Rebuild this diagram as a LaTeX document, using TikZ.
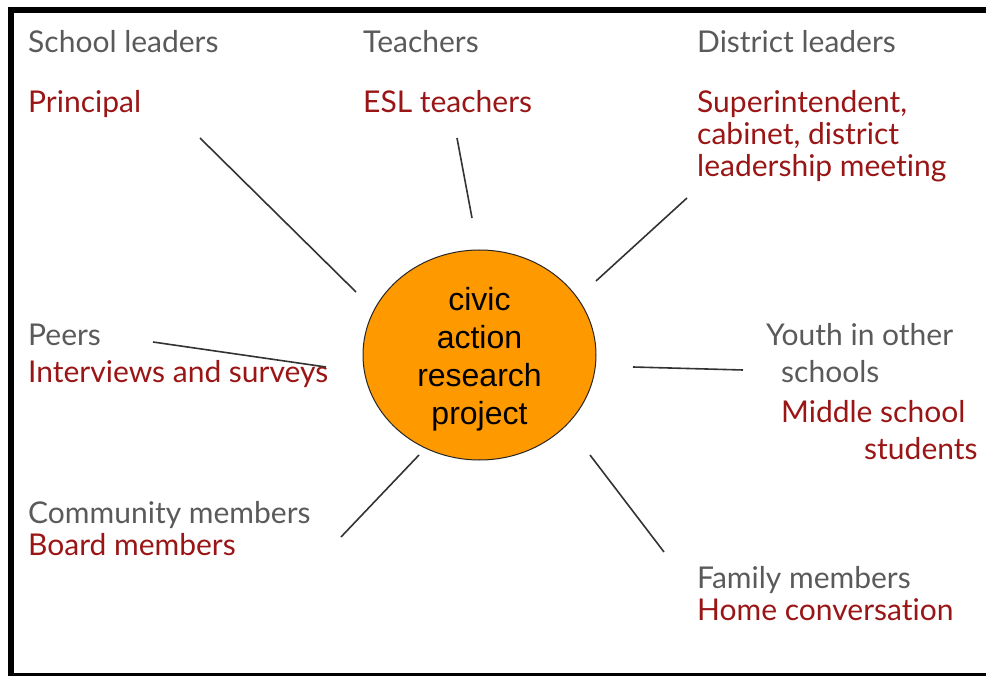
\documentclass[tikz,border=0pt]{standalone}
\usepackage{fontspec}
\usetikzlibrary{shapes.geometric}
\setmainfont{Lato}[Ligatures=NoCommon]
\newfontfamily\hubfont{Liberation Sans}
\definecolor{groupgray}{HTML}{5A5A5A}
\definecolor{examplered}{HTML}{9A1515}
\definecolor{huborange}{HTML}{FF9900}

\begin{document}
\begin{tikzpicture}[
  x=1pt, y=-1pt,
  group/.style={anchor=base west, inner sep=0pt, text=groupgray, font=\fontsize{30}{32}\selectfont},
  example/.style={anchor=base west, inner sep=0pt, text=examplered, font=\fontsize{30}{32}\selectfont, align=left},
  spoke/.style={draw=black!80, line width=1.6pt},
  hub/.style={ellipse, draw=black!85, line width=1pt, fill=huborange, minimum width=233, minimum height=210,
    inner sep=0pt}
]
  \useasboundingbox (0,0) rectangle (986,676);
  \draw[line width=6pt] (986,10.5) -- (10.5,10.5) -- (10.5,675.5) -- (986,675.5);

  \node[hub] (hub) at (479.5,355) {};
  \node[font=\hubfont\fontsize{32}{38}\selectfont, align=center, inner sep=0pt] (hubtext) at (479.5,359)
    {civic\\action\\research\\project};

  % groups and their examples
  \node[group]   (school)    at (28,53)  {School leaders};
  \node[example] (principal) at (28,113) {Principal};
  \node[group]   (teachers)  at (363,53) {Teachers};
  \node[example] (esl)       at (363,113) {ESL teachers};
  \node[group]   (district)  at (697,53) {District leaders};
  \node[example] (supt)      at (697,177) {Superintendent,\\cabinet, district\\leadership meeting};
  \node[group]   (peers)     at (28,346) {Peers};
  \node[example] (surveys)   at (28,383) {Interviews and surveys};
  \node[group]   (youth)     at (766,346) {Youth in other};
  \node[group]   (schools)   at (781,383) {schools};
  \node[example] (middle)    at (781,422) {Middle school};
  \node[example] (students)  at (864,459) {students};
  \node[group]   (community) at (28,523) {Community members};
  \node[example] (board)     at (28,555) {Board members};
  \node[group]   (family)    at (697,588) {Family members};
  \node[example] (home)      at (697,620) {Home conversation};

  % spoke ends
  \coordinate (s1a) at (200,138); \coordinate (s1b) at (356,292);
  \coordinate (s2a) at (457,138); \coordinate (s2b) at (472,218);
  \coordinate (s3a) at (687,198); \coordinate (s3b) at (596,281);
  \coordinate (s4a) at (153,342); \coordinate (s4b) at (326,367);
  \coordinate (s5a) at (633,367); \coordinate (s5b) at (743,370);
  \coordinate (s6a) at (419,455); \coordinate (s6b) at (341,537);
  \coordinate (s7a) at (590,455); \coordinate (s7b) at (664,552);

  \foreach \s in {1,...,7}
    \draw[spoke] (s\s a) -- (s\s b);
\end{tikzpicture}
\end{document}
